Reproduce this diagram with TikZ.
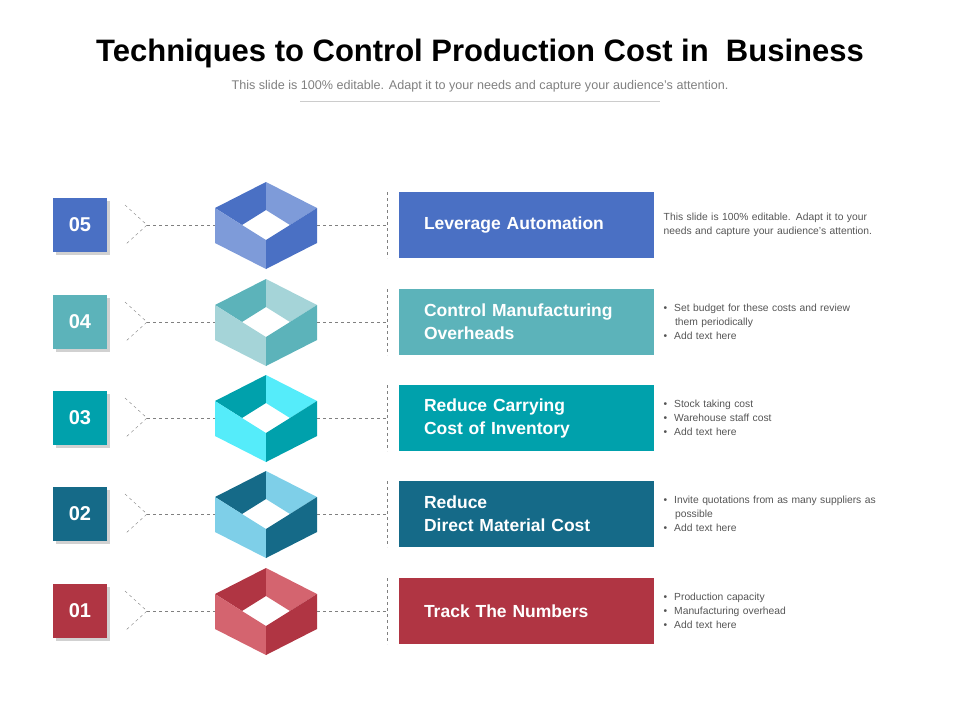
\documentclass[tikz,border=0pt]{standalone}
\usepackage{fontspec}
\setmainfont{Liberation Sans}
\usetikzlibrary{positioning}
\definecolor{cfive}{HTML}{4A70C4}\definecolor{lfive}{HTML}{7E9BD9}
\definecolor{cfour}{HTML}{5CB3BA}\definecolor{lfour}{HTML}{A5D4D8}
\definecolor{cthree}{HTML}{00A1AC}\definecolor{lthree}{HTML}{55ECFA}
\definecolor{ctwo}{HTML}{156A88}\definecolor{ltwo}{HTML}{7ECFE8}
\definecolor{cone}{HTML}{B03543}\definecolor{lone}{HTML}{D4646F}
\definecolor{txtgray}{HTML}{555555}
\begin{document}
\begin{tikzpicture}[x=1pt, y=-1pt, >=stealth, every node/.style={font=\small},
  numbox/.style={minimum width=54pt, minimum height=54pt, text=white, font=\bfseries\fontsize{20}{20}\selectfont},
  labelbox/.style={minimum width=255pt, minimum height=66pt, inner xsep=25pt, text width=205pt, align=left, text=white, font=\bfseries\fontsize{17.5}{23}\selectfont},
  desc/.style={text width=240pt, align=left, text=txtgray, font=\fontsize{10.3}{13.8}\selectfont},
  guide/.style={dashed, gray, thin}]
\useasboundingbox (0,0) rectangle (960,720);

% Title
\node (title) at (480,53) {\bfseries\fontsize{31}{33}\selectfont Techniques to Control Production Cost in\ \ Business};
\node (sub) at (480,86) [text=gray, font=\fontsize{12.6}{13}\selectfont] {This slide is 100\% editable. Adapt it to your needs and capture your audience's attention.};
\draw[gray!40] (300,101) -- (660,101);

% Rows
\foreach \y/\n/\c/\l/\lab/\txt in {
  225/05/cfive/lfive/{Leverage Automation}/{This slide is 100\% editable. Adapt it to your\\needs and capture your audience's attention.},
  322/04/cfour/lfour/{Control Manufacturing\\Overheads}/{\textbullet\ \ Set budget for these costs and review\\\hspace*{1.1em}them periodically\\\textbullet\ \ Add text here},
  418/03/cthree/lthree/{Reduce Carrying\\Cost of Inventory}/{\textbullet\ \ Stock taking cost\\\textbullet\ \ Warehouse  staff cost\\\textbullet\ \ Add text here},
  514/02/ctwo/ltwo/{Reduce\\Direct Material Cost}/{\textbullet\ \ Invite quotations from as many suppliers as\\\hspace*{1.1em}possible\\\textbullet\ \ Add text here},
  611/01/cone/lone/{Track The Numbers}/{\textbullet\ \ Production capacity\\\textbullet\ \ Manufacturing overhead\\\textbullet\ \ Add text here}} {
  % number box with shadow
  \fill[black!18] (56,\y-24) rectangle (110,\y+30);
  \node (num\n) at (80,\y) [numbox, fill=\c] {\n};
  % label box
  \node (lab\n) at (526.5,\y) [labelbox, fill=\c] {\lab};
  \node (desc\n) [desc, right=6pt of lab\n.east, anchor=west] {\txt};
  % open box
  \coordinate (hex\n) at (266,\y);
  \fill[\c] (215,\y-17) -- (266,\y-43) -- (266,\y-15) -- (242,\y) -- cycle;
  \fill[\l] (266,\y-43) -- (317,\y-17) -- (290,\y) -- (266,\y-15) -- cycle;
  \fill[\l] (215,\y-17) -- (242,\y) -- (266,\y+15) -- (266,\y+44) -- (215,\y+18) -- cycle;
  \fill[\c] (317,\y-17) -- (290,\y) -- (266,\y+15) -- (266,\y+44) -- (317,\y+18) -- cycle;
  % guides
  \coordinate (tip\n) at (147,\y);
  \draw[guide] (125,\y-20) -- (tip\n) -- (125,\y+20);
  \draw[guide] (tip\n) -- (215,\y);
  \draw[guide] (317,\y) -- (387,\y);
  \draw[guide] (387,\y-33) -- (387,\y+33);
}
\end{tikzpicture}
\end{document}
